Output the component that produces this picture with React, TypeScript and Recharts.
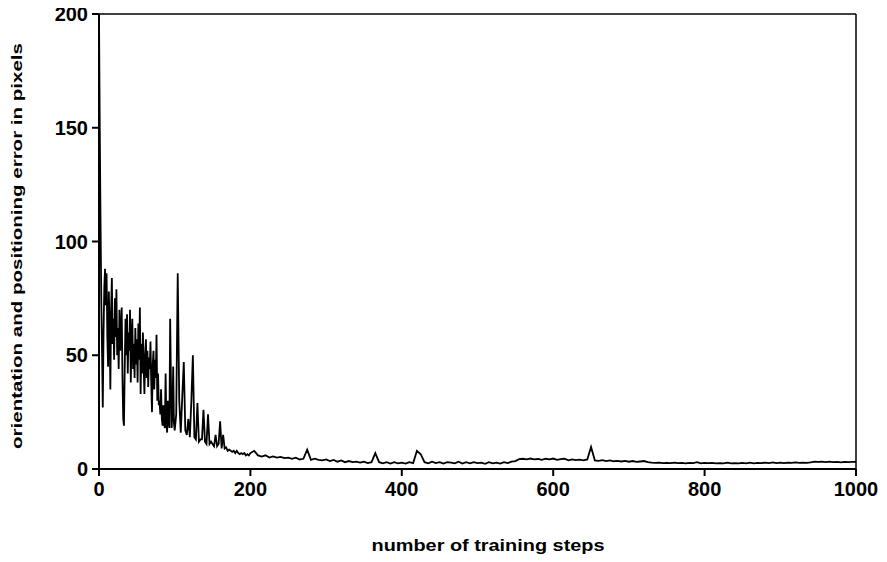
import React from "react";
import { LineChart, Line, XAxis, YAxis, ReferenceLine } from "recharts";

const earlySteps = [
  0, 1, 2, 3, 4, 5, 6, 7, 8, 9, 10, 11, 12, 13, 14, 15, 16, 17, 18, 19,
  20, 21, 22, 23, 24, 25, 26, 27, 28, 29, 30, 31, 32, 33, 34, 35, 36, 37, 38, 39,
  40, 41, 42, 43, 44, 45, 46, 47, 48, 49, 50, 51, 52, 53, 54, 55, 56, 57, 58, 59,
  60, 61, 62, 63, 64, 65, 66, 67, 68, 69, 70, 71, 72, 73, 74, 75, 76, 77, 78, 79,
  80, 81, 82, 83, 84, 85, 86, 87, 88, 89, 90, 91, 92, 93, 94, 95, 96, 97, 98, 99,
  100, 102, 104, 106, 108, 110, 112, 114, 116, 118,
  120, 122, 124, 126, 128, 130, 132, 134, 136, 138, 140, 142, 144, 146, 148, 150, 152, 154, 156, 158,
  160, 162, 164, 166, 168, 170, 172, 174, 176, 178, 180, 182, 184, 186, 188, 190, 192, 194, 196, 198,
];
const earlyError = [
  200, 150, 110, 75, 52, 27, 60, 80, 88, 72, 86, 58, 45, 78, 62, 35, 70, 84, 55, 66,
  48, 75, 58, 79, 50, 62, 44, 70, 52, 60, 71, 40, 22, 19, 45, 66, 50, 68, 42, 60,
  52, 70, 38, 58, 66, 44, 55, 40, 62, 46, 57, 38, 64, 48, 71, 33, 55, 42, 60, 45,
  33, 50, 57, 40, 52, 36, 49, 44, 56, 38, 25, 46, 52, 35, 48, 40, 59, 30, 42, 28,
  30, 24, 35, 22, 19, 28, 20, 18, 42, 20, 16, 30, 22, 18, 66, 40, 18, 25, 45, 20,
  17, 24, 86, 30, 16, 32, 47, 17, 15, 22,
  14, 30, 50, 14, 13, 29, 12, 13, 13, 26, 12, 11, 24, 11, 12, 11, 10, 15, 10, 11,
  21, 9, 15, 9, 9.5, 8, 8.5, 8, 7.5, 8, 7, 8, 7, 6.5, 7, 6.5, 7, 6, 6.5, 6,
];

const laterSteps = [
  200, 205, 210, 215, 220, 225, 230, 235, 240, 245, 250, 255, 260, 265, 270, 275, 280, 285, 290, 295,
  300, 305, 310, 315, 320, 325, 330, 335, 340, 345, 350, 355, 360, 365, 370, 375, 380, 385, 390, 395,
  400, 405, 410, 415, 420, 425, 430, 435, 440, 445, 450, 455, 460, 465, 470, 475, 480, 485, 490, 495,
  500, 505, 510, 515, 520, 525, 530, 535, 540, 545, 550, 555, 560, 565, 570, 575, 580, 585, 590, 595,
  600, 605, 610, 615, 620, 625, 630, 635, 640, 645, 650, 655, 660, 665, 670, 675, 680, 685, 690, 695,
  700, 705, 710, 715, 720, 725, 730, 735, 740, 745, 750, 755, 760, 765, 770, 775, 780, 785, 790, 795,
  800, 805, 810, 815, 820, 825, 830, 835, 840, 845, 850, 855, 860, 865, 870, 875, 880, 885, 890, 895,
  900, 905, 910, 915, 920, 925, 930, 935, 940, 945, 950, 955, 960, 965, 970, 975, 980, 985, 990, 995,
  1000,
];
const laterError = [
  7, 8, 6, 5.5, 6, 5, 5.5, 5, 5.3, 4.8, 5, 4.5, 5, 4.2, 4.5, 8.5, 4, 4.5, 4, 3.8,
  4.2, 3.5, 4, 3.2, 3.8, 3, 3.5, 3, 3.2, 2.8, 3.2, 2.6, 3, 7, 3, 2.5, 3, 2.4, 3, 2.5,
  2.8, 2.4, 3, 2.6, 8, 6.5, 3, 2.5, 3.2, 2.6, 3, 2.4, 3, 2.8, 2.5, 3.2, 2.4, 3, 2.5, 3,
  2.6, 2.8, 2.3, 3, 2.5, 2.8, 2.4, 3, 2.6, 3.2, 3.5, 4.3, 4.5, 4.2, 4.6, 4.2, 4.4, 4, 4.5, 4.2,
  4.6, 4, 4.3, 4.5, 3.8, 4.2, 3.9, 4.1, 3.8, 4.2, 9.7, 3.8, 3.6, 3.9, 3.5, 3.8, 3.4, 3.6, 3.3, 3.6,
  3.2, 3.5, 3.1, 3.3, 3.5, 3, 2.8, 2.7, 2.8, 2.6, 2.7, 2.6, 2.8, 2.6, 2.7, 2.5, 2.7, 2.6, 3, 2.5,
  2.7, 2.6, 2.7, 2.5, 2.6, 2.5, 2.8, 2.5, 2.6, 2.5, 2.7, 2.5, 2.8, 2.5, 2.7, 2.6, 2.8, 2.6, 2.9, 2.6,
  2.8, 2.6, 2.8, 2.7, 2.9, 2.7, 2.8, 2.7, 2.9, 3.2, 3.1, 3.2, 3, 3.2, 3, 3.1, 2.9, 3.1, 3, 3.1,
  3.1,
];

const xTicks = [0, 200, 400, 600, 800, 1000];
const yTicks = [0, 50, 100, 150, 200];
const xTitle = "number of training steps";
const yTitle = "orientation and positioning error in pixels";

const data = [
  ...earlySteps.map((s, i) => ({ step: s, error: earlyError[i] })),
  ...laterSteps.map((s, i) => ({ step: s, error: laterError[i] })),
];

const FONT = '"Liberation Sans", Arial, Helvetica, sans-serif';

export default function App() {
  return (
    <div style={{ width: 879, height: 554 }}>
      <LineChart
        width={879}
        height={554}
        data={data}
        margin={{ top: 6, right: 31, left: 0, bottom: 53 }}
      >
        <XAxis
          type="number"
          dataKey="step"
          domain={[0, 1000]}
          ticks={xTicks}
          interval={0}
          height={40}
          tickSize={7}
          tickMargin={6}
          axisLine={{ stroke: "#000", strokeWidth: 2 }}
          tickLine={{ stroke: "#000", strokeWidth: 2 }}
          tick={{ fill: "#000", fontSize: 20, fontFamily: FONT, fontWeight: 700 }}
          label={{
            content: () => (
              <text
                x={480}
                y={543}
                textAnchor="middle"
                fill="#000"
                fontSize={16}
                fontFamily={FONT}
                fontWeight={700}
                textLength={233}
                lengthAdjust="spacingAndGlyphs"
              >
                {xTitle}
              </text>
            ),
          }}
        />
        <YAxis
          type="number"
          domain={[0, 200]}
          ticks={yTicks}
          interval={0}
          width={91}
          tickSize={7}
          tickMargin={4}
          axisLine={{ stroke: "#000", strokeWidth: 2 }}
          tickLine={{ stroke: "#000", strokeWidth: 2 }}
          tick={{ fill: "#000", fontSize: 20, fontFamily: FONT, fontWeight: 700 }}
          label={{
            content: () => (
              <text
                x={14}
                y={238}
                transform="rotate(-90 14 238)"
                textAnchor="middle"
                fill="#000"
                fontSize={15}
                fontFamily={FONT}
                fontWeight={700}
                textLength={406}
                lengthAdjust="spacingAndGlyphs"
              >
                {yTitle}
              </text>
            ),
          }}
        />
        <ReferenceLine y={200} stroke="#000" strokeWidth={1.5} />
        <ReferenceLine x={1000} stroke="#000" strokeWidth={1.5} />
        <Line
          type="linear"
          dataKey="error"
          stroke="#000"
          strokeWidth={1.8}
          dot={false}
          isAnimationActive={false}
        />
      </LineChart>
    </div>
  );
}
